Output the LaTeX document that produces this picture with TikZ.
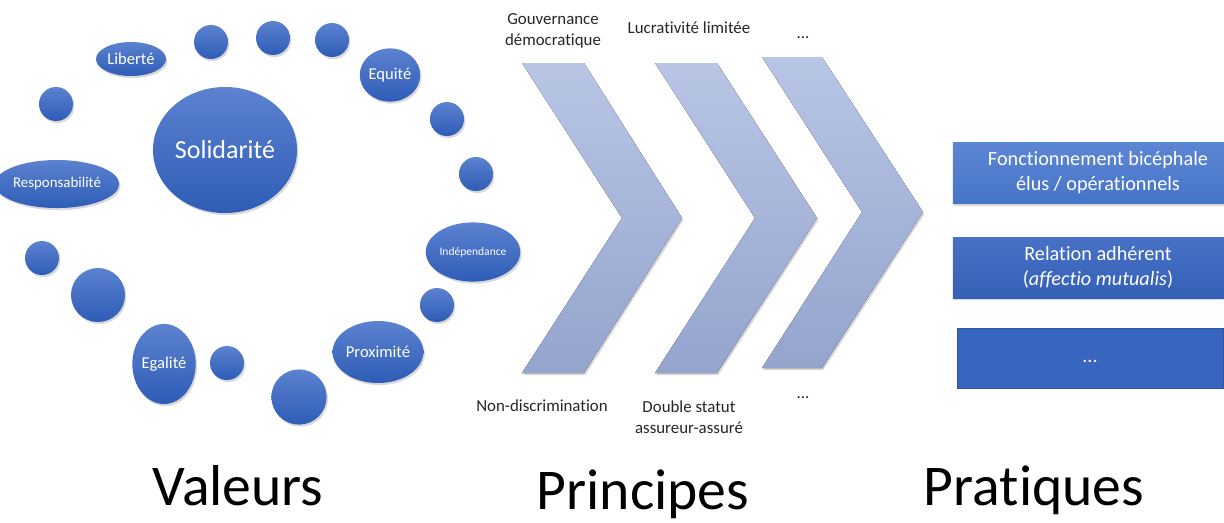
\documentclass[tikz,border=0pt]{standalone}
\usepackage{fontspec}
\setmainfont{Carlito}[Ligatures=NoCommon]
\usetikzlibrary{shapes.geometric,shadows}

\definecolor{ballTop}{RGB}{92,130,208}
\definecolor{ballBot}{RGB}{46,92,182}
\definecolor{chevTop}{RGB}{184,197,229}
\definecolor{chevBot}{RGB}{148,164,205}
\definecolor{boxTop}{RGB}{93,134,212}
\definecolor{boxBot}{RGB}{70,116,200}
\definecolor{boxDark}{RGB}{55,101,192}
\definecolor{boxLine}{RGB}{47,84,160}

\tikzset{
  shade/.style={drop shadow={opacity=0.3,shadow xshift=1pt,shadow yshift=-1.5pt}},
  ball/.style={circle, inner sep=0pt, minimum size=#1, top color=ballTop, bottom color=ballBot, shade},
  oval/.style n args={2}{ellipse, inner sep=0pt, minimum width=#1, minimum height=#2,
    top color=ballTop, bottom color=ballBot, shade, text=white, font=\fontsize{11.8}{13}\selectfont},
  chev/.style={top color=chevTop, bottom color=chevBot, shade},
  tag/.style={align=center, text=black!85, font=\fontsize{12}{14.6}\selectfont},
  pbox/.style={rectangle, inner sep=0pt, minimum width=7.25cm, minimum height=1.525cm,
    align=center, text=white, font=\fontsize{14.4}{17.8}\selectfont},
  title/.style={anchor=base, text=black, font=\fontsize{41}{44}\selectfont}
}

\begin{document}
\begin{tikzpicture}[x=0.025cm, y=-0.025cm]
  \clip (0,0) rectangle (1224,522);

  % valeurs
  \node[oval={3.6cm}{3.15cm}, font=\fontsize{18.5}{20}\selectfont] (solid) at (225,150) {Solidarité};
  \node[oval={1.75cm}{0.85cm}] (lib) at (131,59) {Liberté};
  \node[oval={1.35cm}{1.33cm}] (equ) at (390,75) {Equité};
  \node[oval={1.9cm}{1.48cm}, font=\fontsize{8.2}{9}\selectfont] (ind) at (473,252) {Indépendance};
  \node[oval={1.92cm}{1.55cm}] (prox) at (378,352) {Proximité};
  \node[oval={1.55cm}{2cm}] (ega) at (164,364) {Egalité};
  \node[oval={2.25cm}{1.2cm}, font=\fontsize{10.6}{12}\selectfont] (resp) at (57,184) {Responsabilité};
  \node[ball=0.85cm] (b1) at (211,42) {};
  \node[ball=0.85cm] (b2) at (273,38) {};
  \node[ball=0.85cm] (b3) at (332,40) {};
  \node[ball=0.85cm] (b4) at (447,119) {};
  \node[ball=0.85cm] (b5) at (476,174) {};
  \node[ball=0.85cm] (b6) at (437,305) {};
  \node[ball=1.38cm] (b7) at (299,397) {};
  \node[ball=0.85cm] (b8) at (227,363) {};
  \node[ball=1.35cm] (b9) at (98,295) {};
  \node[ball=0.85cm] (b10) at (42,258) {};
  \node[ball=0.85cm] (b11) at (56,104) {};

  % principes
  \fill[chev] (522,63) -- (584,63) -- (682,218) -- (584,373) -- (522,373) -- (622,218) -- cycle;
  \fill[chev] (655,63) -- (717,63) -- (817,218) -- (717,373) -- (655,373) -- (755,218) -- cycle;
  \fill[chev] (762,57) -- (822,57) -- (923,212) -- (822,368) -- (762,368) -- (862,212) -- cycle;
  \node[tag] (gouv) at (553,31) {Gouvernance\\démocratique};
  \node[tag] (lucr) at (689,28) {Lucrativité limitée};
  \node[tag, anchor=base] (etc1) at (803,38) {...};
  \node[tag] (nondis) at (542,406) {Non-discrimination};
  \node[tag] (dbl) at (689,417) {Double statut\\assureur-assuré};
  \node[tag, anchor=base] (etc2) at (803,398) {...};

  % pratiques
  \node[pbox, top color=boxTop, bottom color=boxBot, shade] (bic) at (1098,173) {Fonctionnement bicéphale\\élus / opérationnels};
  \node[pbox, top color=boxDark!92!white, bottom color=boxDark!95!black, shade] (adh) at (1098,267.5) {Relation adhérent\\(\textit{affectio mutualis})};
  \node[pbox, fill=boxDark, draw=boxLine, minimum width=6.65cm, minimum height=1.5cm] (etc3) at (1090,358) {\raisebox{-0.1cm}[0pt][0pt]{...}};

  % titres
  \node[title] (val) at (238,505) {Valeurs};
  \node[title] (princ) at (643,509) {Principes};
  \node[title] (prat) at (1034,505) {Pratiques};
\end{tikzpicture}
\end{document}
